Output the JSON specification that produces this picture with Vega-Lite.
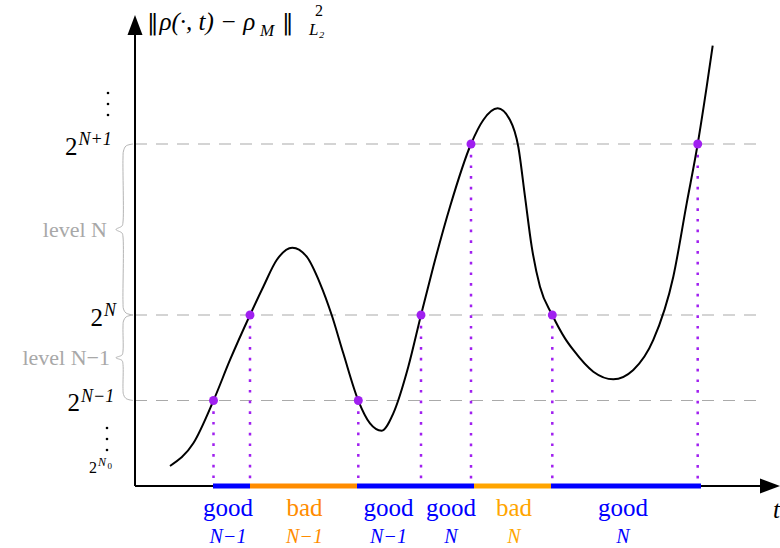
{
  "$schema": "https://vega.github.io/schema/vega-lite/v6.json",
  "width": 780,
  "height": 548,
  "autosize": {"type": "fit", "contains": "padding"},
  "padding": 0,
  "background": "white",
  "config": {"view": {"stroke": null}, "font": "Liberation Serif"},
  "datasets": {
    "curve": [
      {"t": 0.35, "v": 0.234}, {"t": 0.583, "v": 0.499}, {"t": 0.785, "v": 1.0}, {"t": 0.95, "v": 1.474},
      {"t": 1.15, "v": 2.0}, {"t": 1.283, "v": 2.331}, {"t": 1.417, "v": 2.643}, {"t": 1.573, "v": 2.787},
      {"t": 1.717, "v": 2.682}, {"t": 1.85, "v": 2.371}, {"t": 1.967, "v": 2.0}, {"t": 2.083, "v": 1.552},
      {"t": 2.233, "v": 1.0}, {"t": 2.35, "v": 0.733}, {"t": 2.467, "v": 0.647}, {"t": 2.583, "v": 0.85},
      {"t": 2.733, "v": 1.395}, {"t": 2.86, "v": 2.0}, {"t": 2.983, "v": 2.565}, {"t": 3.15, "v": 3.267},
      {"t": 3.36, "v": 4.0}, {"t": 3.483, "v": 4.281}, {"t": 3.627, "v": 4.417}, {"t": 3.75, "v": 4.281},
      {"t": 3.833, "v": 3.968}, {"t": 3.9, "v": 3.384}, {"t": 3.967, "v": 2.799}, {"t": 4.05, "v": 2.331},
      {"t": 4.173, "v": 2.0}, {"t": 4.3, "v": 1.727}, {"t": 4.383, "v": 1.591}, {"t": 4.583, "v": 1.337},
      {"t": 4.783, "v": 1.248}, {"t": 4.983, "v": 1.357}, {"t": 5.183, "v": 1.708}, {"t": 5.383, "v": 2.448},
      {"t": 5.517, "v": 3.306}, {"t": 5.627, "v": 4.0}, {"t": 5.717, "v": 4.67}, {"t": 5.777, "v": 5.15}
    ],
    "crossings": [
      {"t": 0.785, "v": 1}, {"t": 1.15, "v": 2}, {"t": 2.233, "v": 1}, {"t": 2.86, "v": 2},
      {"t": 3.36, "v": 4}, {"t": 4.173, "v": 2}, {"t": 5.627, "v": 4}
    ],
    "levels": [{"v": 1}, {"v": 2}, {"v": 4}],
    "segments": [
      {"t": 0.78, "t_end": 1.15, "kind": "good"},
      {"t": 1.15, "t_end": 2.22, "kind": "bad N−1"},
      {"t": 2.22, "t_end": 2.86, "kind": "good"},
      {"t": 2.86, "t_end": 3.39, "kind": "good"},
      {"t": 3.39, "t_end": 4.16, "kind": "bad N"},
      {"t": 4.16, "t_end": 5.66, "kind": "good"}
    ],
    "labels": [
      {"t": 0.93, "word": "good", "lvl": "N−1", "kind": "good"},
      {"t": 1.695, "word": "bad", "lvl": "N−1", "kind": "bad N−1"},
      {"t": 2.535, "word": "good", "lvl": "N−1", "kind": "good"},
      {"t": 3.16, "word": "good", "lvl": "N", "kind": "good"},
      {"t": 3.79, "word": "bad", "lvl": "N", "kind": "bad N"},
      {"t": 4.88, "word": "good", "lvl": "N", "kind": "good"}
    ],
    "ticks": [
      {"t": -0.575, "v": 4, "sup": "N+1"},
      {"t": -0.32, "v": 2, "sup": "N"},
      {"t": -0.55, "v": 1, "sup": "N−1"}
    ],
    "braces": [
      {"brace": "N", "i": 0, "t": -0.02, "v": 4.0}, {"brace": "N", "i": 1, "t": -0.09, "v": 3.977},
      {"brace": "N", "i": 2, "t": -0.115, "v": 3.918}, {"brace": "N", "i": 3, "t": -0.12, "v": 3.836},
      {"brace": "N", "i": 4, "t": -0.12, "v": 3.088}, {"brace": "N", "i": 5, "t": -0.13, "v": 3.041},
      {"brace": "N", "i": 6, "t": -0.19, "v": 3.0}, {"brace": "N", "i": 7, "t": -0.13, "v": 2.959},
      {"brace": "N", "i": 8, "t": -0.12, "v": 2.912}, {"brace": "N", "i": 9, "t": -0.12, "v": 2.152},
      {"brace": "N", "i": 10, "t": -0.115, "v": 2.07}, {"brace": "N", "i": 11, "t": -0.09, "v": 2.023},
      {"brace": "N", "i": 12, "t": -0.02, "v": 2.0},
      {"brace": "N-1", "i": 0, "t": -0.02, "v": 2.0}, {"brace": "N-1", "i": 1, "t": -0.09, "v": 1.977},
      {"brace": "N-1", "i": 2, "t": -0.115, "v": 1.93}, {"brace": "N-1", "i": 3, "t": -0.12, "v": 1.86},
      {"brace": "N-1", "i": 4, "t": -0.12, "v": 1.579}, {"brace": "N-1", "i": 5, "t": -0.13, "v": 1.532},
      {"brace": "N-1", "i": 6, "t": -0.19, "v": 1.5}, {"brace": "N-1", "i": 7, "t": -0.13, "v": 1.468},
      {"brace": "N-1", "i": 8, "t": -0.12, "v": 1.421}, {"brace": "N-1", "i": 9, "t": -0.12, "v": 1.14},
      {"brace": "N-1", "i": 10, "t": -0.115, "v": 1.07}, {"brace": "N-1", "i": 11, "t": -0.09, "v": 1.023},
      {"brace": "N-1", "i": 12, "t": -0.02, "v": 1.0}
    ],
    "vdots": [
      {"t": -0.27, "v": 4.596}, {"t": -0.27, "v": 4.468}, {"t": -0.27, "v": 4.339},
      {"t": -0.28, "v": 0.678}, {"t": -0.28, "v": 0.55}, {"t": -0.28, "v": 0.421}
    ],
    "axes": [
      {"axis": "vertical", "t": 0, "t_end": 0, "v": 0, "v_end": 5.28},
      {"axis": "horizontal", "t": 0, "t_end": 6.25, "v": 0, "v_end": 0}
    ],
    "arrows": [
      {"axis": "vertical", "t": 0, "v": 5.392},
      {"axis": "horizontal", "t": 6.35, "v": 0}
    ],
    "annotations": [
      {"role": "norm", "t": 0.12, "v": 5.333, "text": "‖"},
      {"role": "title", "t": 0.245, "v": 5.333, "text": "ρ(·, t) − ρ"},
      {"role": "title-sub", "t": 1.25, "v": 5.263, "text": "M"},
      {"role": "norm", "t": 1.47, "v": 5.333, "text": "‖"},
      {"role": "title-sup", "t": 1.8, "v": 5.5, "text": "2"},
      {"role": "title-sub", "t": 1.74, "v": 5.27, "text": "L₂"},
      {"role": "taxis", "t": 6.38, "v": -0.374, "text": "t"},
      {"role": "level", "t": -0.28, "v": 3.0, "text": "level N"},
      {"role": "level", "t": -0.25, "v": 1.5, "text": "level N−1"},
      {"role": "n0-base", "t": -0.38, "v": 0.152, "text": "2"},
      {"role": "n0-sup", "t": -0.37, "v": 0.234, "text": "N"},
      {"role": "n0-sub", "t": -0.275, "v": 0.199, "text": "0"}
    ]
  },
  "layer": [
    {
      "data": {"name": "levels"},
      "mark": {"type": "rule", "color": "#aaaaaa", "strokeWidth": 1.2, "strokeDash": [12, 9]},
      "encoding": {
        "x": {"datum": 0, "type": "quantitative", "scale": {"domain": [-1.35, 6.45], "nice": false, "zero": false}, "axis": null},
        "x2": {"datum": 6.3},
        "y": {"field": "v", "type": "quantitative", "scale": {"domain": [-0.7251, 5.6842], "nice": false, "zero": false}, "axis": null}
      }
    },
    {
      "data": {"name": "braces"},
      "mark": {"type": "line", "color": "#b4b4b4", "strokeWidth": 1, "interpolate": "catmull-rom"},
      "encoding": {
        "x": {"field": "t", "type": "quantitative", "scale": {"domain": [-1.35, 6.45], "nice": false, "zero": false}, "axis": null},
        "y": {"field": "v", "type": "quantitative", "scale": {"domain": [-0.7251, 5.6842], "nice": false, "zero": false}, "axis": null},
        "detail": {"field": "brace"},
        "order": {"field": "i", "type": "quantitative"}
      }
    },
    {
      "data": {"name": "crossings"},
      "mark": {"type": "rule", "color": "#a020f0", "strokeWidth": 2.5, "strokeDash": [2.7, 8]},
      "encoding": {
        "x": {"field": "t", "type": "quantitative", "scale": {"domain": [-1.35, 6.45], "nice": false, "zero": false}, "axis": null},
        "y": {"field": "v", "type": "quantitative", "scale": {"domain": [-0.7251, 5.6842], "nice": false, "zero": false}, "axis": null},
        "y2": {"datum": 0}
      }
    },
    {
      "data": {"name": "axes"},
      "mark": {"type": "rule", "color": "black", "strokeWidth": 2},
      "encoding": {
        "x": {"field": "t", "type": "quantitative", "scale": {"domain": [-1.35, 6.45], "nice": false, "zero": false}, "axis": null},
        "x2": {"field": "t_end"},
        "y": {"field": "v", "type": "quantitative", "scale": {"domain": [-0.7251, 5.6842], "nice": false, "zero": false}, "axis": null},
        "y2": {"field": "v_end"}
      }
    },
    {
      "data": {"name": "segments"},
      "mark": {"type": "rule", "strokeWidth": 5, "strokeCap": "butt"},
      "encoding": {
        "x": {"field": "t", "type": "quantitative", "scale": {"domain": [-1.35, 6.45], "nice": false, "zero": false}, "axis": null},
        "x2": {"field": "t_end"},
        "y": {"datum": 0, "type": "quantitative", "scale": {"domain": [-0.7251, 5.6842], "nice": false, "zero": false}, "axis": null},
        "color": {"field": "kind", "type": "nominal", "scale": {"domain": ["good", "bad N−1", "bad N"], "range": ["#0000ff", "#ff8c00", "#ffa500"]}, "legend": null}
      }
    },
    {
      "data": {"name": "curve"},
      "mark": {"type": "line", "color": "black", "strokeWidth": 2, "interpolate": "monotone"},
      "encoding": {
        "x": {"field": "t", "type": "quantitative", "scale": {"domain": [-1.35, 6.45], "nice": false, "zero": false}, "axis": null},
        "y": {"field": "v", "type": "quantitative", "scale": {"domain": [-0.7251, 5.6842], "nice": false, "zero": false}, "axis": null}
      }
    },
    {
      "data": {"name": "crossings"},
      "mark": {"type": "circle", "color": "#a020f0", "opacity": 1, "size": 80},
      "encoding": {
        "x": {"field": "t", "type": "quantitative", "scale": {"domain": [-1.35, 6.45], "nice": false, "zero": false}, "axis": null},
        "y": {"field": "v", "type": "quantitative", "scale": {"domain": [-0.7251, 5.6842], "nice": false, "zero": false}, "axis": null}
      }
    },
    {
      "data": {"name": "arrows"},
      "transform": [{"filter": "datum.axis === 'vertical'"}],
      "mark": {"type": "point", "shape": "M0,-1L-0.75,1L0.75,1Z", "filled": true, "color": "black", "opacity": 1, "size": 400, "strokeWidth": 0},
      "encoding": {
        "x": {"field": "t", "type": "quantitative", "scale": {"domain": [-1.35, 6.45], "nice": false, "zero": false}, "axis": null},
        "y": {"field": "v", "type": "quantitative", "scale": {"domain": [-0.7251, 5.6842], "nice": false, "zero": false}, "axis": null}
      }
    },
    {
      "data": {"name": "arrows"},
      "transform": [{"filter": "datum.axis === 'horizontal'"}],
      "mark": {"type": "point", "shape": "M1,0L-1,-0.75L-1,0.75Z", "filled": true, "color": "black", "opacity": 1, "size": 400, "strokeWidth": 0},
      "encoding": {
        "x": {"field": "t", "type": "quantitative", "scale": {"domain": [-1.35, 6.45], "nice": false, "zero": false}, "axis": null},
        "y": {"field": "v", "type": "quantitative", "scale": {"domain": [-0.7251, 5.6842], "nice": false, "zero": false}, "axis": null}
      }
    },
    {
      "data": {"name": "vdots"},
      "mark": {"type": "circle", "color": "black", "opacity": 1, "size": 7},
      "encoding": {
        "x": {"field": "t", "type": "quantitative", "scale": {"domain": [-1.35, 6.45], "nice": false, "zero": false}, "axis": null},
        "y": {"field": "v", "type": "quantitative", "scale": {"domain": [-0.7251, 5.6842], "nice": false, "zero": false}, "axis": null}
      }
    },
    {
      "data": {"name": "labels"},
      "mark": {"type": "text", "fontSize": 25, "align": "center", "baseline": "alphabetic"},
      "encoding": {
        "x": {"field": "t", "type": "quantitative", "scale": {"domain": [-1.35, 6.45], "nice": false, "zero": false}, "axis": null},
        "y": {"datum": -0.3509, "type": "quantitative", "scale": {"domain": [-0.7251, 5.6842], "nice": false, "zero": false}, "axis": null},
        "text": {"field": "word"},
        "color": {"field": "kind", "type": "nominal", "scale": {"domain": ["good", "bad N−1", "bad N"], "range": ["#0000ff", "#ff8c00", "#ffa500"]}, "legend": null}
      }
    },
    {
      "data": {"name": "labels"},
      "mark": {"type": "text", "fontSize": 20, "fontStyle": "italic", "align": "center", "baseline": "alphabetic"},
      "encoding": {
        "x": {"field": "t", "type": "quantitative", "scale": {"domain": [-1.35, 6.45], "nice": false, "zero": false}, "axis": null},
        "y": {"datum": -0.6667, "type": "quantitative", "scale": {"domain": [-0.7251, 5.6842], "nice": false, "zero": false}, "axis": null},
        "text": {"field": "lvl"},
        "color": {"field": "kind", "type": "nominal", "scale": {"domain": ["good", "bad N−1", "bad N"], "range": ["#0000ff", "#ff8c00", "#ffa500"]}, "legend": null}
      }
    },
    {
      "data": {"name": "ticks"},
      "mark": {"type": "text", "fontSize": 25, "align": "right", "baseline": "alphabetic", "dy": 10.5, "color": "black"},
      "encoding": {
        "x": {"field": "t", "type": "quantitative", "scale": {"domain": [-1.35, 6.45], "nice": false, "zero": false}, "axis": null},
        "y": {"field": "v", "type": "quantitative", "scale": {"domain": [-0.7251, 5.6842], "nice": false, "zero": false}, "axis": null},
        "text": {"value": "2"}
      }
    },
    {
      "data": {"name": "ticks"},
      "mark": {"type": "text", "fontSize": 18, "fontStyle": "italic", "align": "left", "baseline": "alphabetic", "dx": 1, "dy": 1, "color": "black"},
      "encoding": {
        "x": {"field": "t", "type": "quantitative", "scale": {"domain": [-1.35, 6.45], "nice": false, "zero": false}, "axis": null},
        "y": {"field": "v", "type": "quantitative", "scale": {"domain": [-0.7251, 5.6842], "nice": false, "zero": false}, "axis": null},
        "text": {"field": "sup"}
      }
    },
    {
      "data": {"name": "annotations"},
      "transform": [{"filter": "datum.role === 'norm'"}],
      "mark": {"type": "text", "font": "DejaVu Serif", "fontSize": 23, "align": "left", "baseline": "alphabetic", "color": "black"},
      "encoding": {
        "x": {"field": "t", "type": "quantitative", "scale": {"domain": [-1.35, 6.45], "nice": false, "zero": false}, "axis": null},
        "y": {"field": "v", "type": "quantitative", "scale": {"domain": [-0.7251, 5.6842], "nice": false, "zero": false}, "axis": null},
        "text": {"field": "text"}
      }
    },
    {
      "data": {"name": "annotations"},
      "transform": [{"filter": "datum.role === 'title'"}],
      "mark": {"type": "text", "fontSize": 25, "fontStyle": "italic", "align": "left", "baseline": "alphabetic", "color": "black"},
      "encoding": {
        "x": {"field": "t", "type": "quantitative", "scale": {"domain": [-1.35, 6.45], "nice": false, "zero": false}, "axis": null},
        "y": {"field": "v", "type": "quantitative", "scale": {"domain": [-0.7251, 5.6842], "nice": false, "zero": false}, "axis": null},
        "text": {"field": "text"}
      }
    },
    {
      "data": {"name": "annotations"},
      "transform": [{"filter": "datum.role === 'title-sub'"}],
      "mark": {"type": "text", "fontSize": 17, "fontStyle": "italic", "align": "left", "baseline": "alphabetic", "color": "black"},
      "encoding": {
        "x": {"field": "t", "type": "quantitative", "scale": {"domain": [-1.35, 6.45], "nice": false, "zero": false}, "axis": null},
        "y": {"field": "v", "type": "quantitative", "scale": {"domain": [-0.7251, 5.6842], "nice": false, "zero": false}, "axis": null},
        "text": {"field": "text"}
      }
    },
    {
      "data": {"name": "annotations"},
      "transform": [{"filter": "datum.role === 'title-sup'"}],
      "mark": {"type": "text", "fontSize": 16, "align": "left", "baseline": "alphabetic", "color": "black"},
      "encoding": {
        "x": {"field": "t", "type": "quantitative", "scale": {"domain": [-1.35, 6.45], "nice": false, "zero": false}, "axis": null},
        "y": {"field": "v", "type": "quantitative", "scale": {"domain": [-0.7251, 5.6842], "nice": false, "zero": false}, "axis": null},
        "text": {"field": "text"}
      }
    },
    {
      "data": {"name": "annotations"},
      "transform": [{"filter": "datum.role === 'taxis'"}],
      "mark": {"type": "text", "fontSize": 25, "fontStyle": "italic", "align": "left", "baseline": "alphabetic", "color": "black"},
      "encoding": {
        "x": {"field": "t", "type": "quantitative", "scale": {"domain": [-1.35, 6.45], "nice": false, "zero": false}, "axis": null},
        "y": {"field": "v", "type": "quantitative", "scale": {"domain": [-0.7251, 5.6842], "nice": false, "zero": false}, "axis": null},
        "text": {"field": "text"}
      }
    },
    {
      "data": {"name": "annotations"},
      "transform": [{"filter": "datum.role === 'level'"}],
      "mark": {"type": "text", "fontSize": 22, "align": "right", "baseline": "middle", "color": "#a8a8a8"},
      "encoding": {
        "x": {"field": "t", "type": "quantitative", "scale": {"domain": [-1.35, 6.45], "nice": false, "zero": false}, "axis": null},
        "y": {"field": "v", "type": "quantitative", "scale": {"domain": [-0.7251, 5.6842], "nice": false, "zero": false}, "axis": null},
        "text": {"field": "text"}
      }
    },
    {
      "data": {"name": "annotations"},
      "transform": [{"filter": "datum.role === 'n0-base'"}],
      "mark": {"type": "text", "fontSize": 16, "align": "right", "baseline": "alphabetic", "color": "black"},
      "encoding": {
        "x": {"field": "t", "type": "quantitative", "scale": {"domain": [-1.35, 6.45], "nice": false, "zero": false}, "axis": null},
        "y": {"field": "v", "type": "quantitative", "scale": {"domain": [-0.7251, 5.6842], "nice": false, "zero": false}, "axis": null},
        "text": {"field": "text"}
      }
    },
    {
      "data": {"name": "annotations"},
      "transform": [{"filter": "datum.role === 'n0-sup'"}],
      "mark": {"type": "text", "fontSize": 12, "fontStyle": "italic", "align": "left", "baseline": "alphabetic", "color": "black"},
      "encoding": {
        "x": {"field": "t", "type": "quantitative", "scale": {"domain": [-1.35, 6.45], "nice": false, "zero": false}, "axis": null},
        "y": {"field": "v", "type": "quantitative", "scale": {"domain": [-0.7251, 5.6842], "nice": false, "zero": false}, "axis": null},
        "text": {"field": "text"}
      }
    },
    {
      "data": {"name": "annotations"},
      "transform": [{"filter": "datum.role === 'n0-sub'"}],
      "mark": {"type": "text", "fontSize": 9, "align": "left", "baseline": "alphabetic", "color": "black"},
      "encoding": {
        "x": {"field": "t", "type": "quantitative", "scale": {"domain": [-1.35, 6.45], "nice": false, "zero": false}, "axis": null},
        "y": {"field": "v", "type": "quantitative", "scale": {"domain": [-0.7251, 5.6842], "nice": false, "zero": false}, "axis": null},
        "text": {"field": "text"}
      }
    }
  ]
}
